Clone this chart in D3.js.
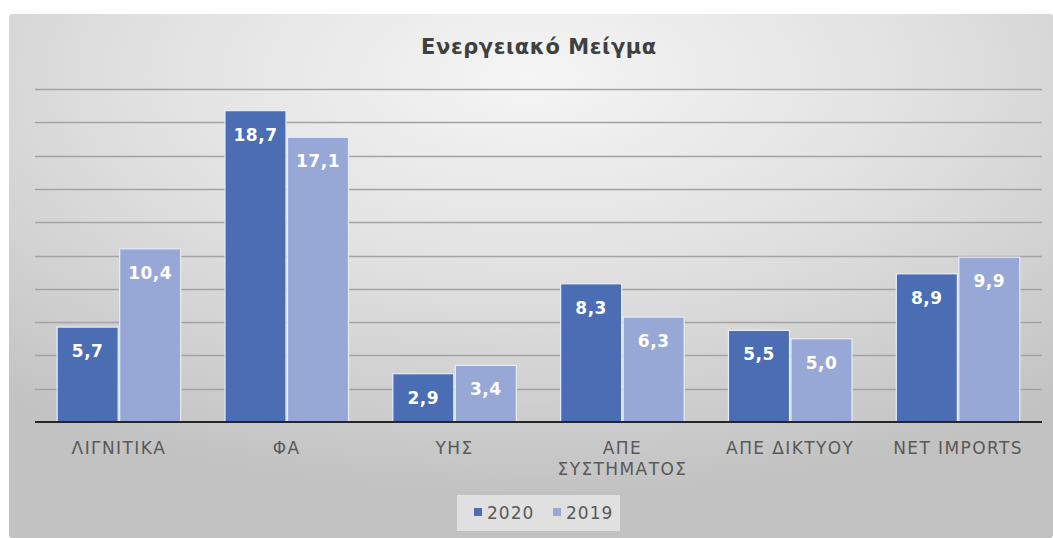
<!DOCTYPE html>
<html>
<head>
<meta charset="utf-8">
<script src="https://cdn.jsdelivr.net/npm/d3@7"></script>
<style>
  body { margin: 0; background: #fff; }
  svg { display: block; }
</style>
</head>
<body>
<div id="chart"></div>
<script>
'use strict';

var categories = [['ΛΙΓΝΙΤΙΚΑ'], ['ΦΑ'], ['ΥΗΣ'], ['ΑΠΕ', 'ΣΥΣΤΗΜΑΤΟΣ'], ['ΑΠΕ ΔΙΚΤΥΟΥ'], ['NET IMPORTS']];
var years = ['2020', '2019'];
var values2020 = [5.7, 18.7, 2.9, 8.3, 5.5, 8.9];
var values2019 = [10.4, 17.1, 3.4, 6.3, 5.0, 9.9];
var yTicks = [0, 2, 4, 6, 8, 10, 12, 14, 16, 18, 20];
var colors = ['#4a6db4', '#97a8d6'];

var width = 1053;
var height = 538;
var plot = { left: 35, right: 1042, top: 89, bottom: 422 };
var font = 'DejaVu Sans, Verdana, sans-serif';

var svg = d3.select('#chart')
  .append('svg')
  .attr('width', width)
  .attr('height', height);

// background gradient of the chart area
var defs = svg.append('defs');
var grad = defs.append('radialGradient')
  .attr('id', 'bg')
  .attr('cx', 0.5).attr('cy', 0.12).attr('r', 0.8);
grad.append('stop').attr('offset', 0).attr('stop-color', '#f5f5f5');
grad.append('stop').attr('offset', 0.45).attr('stop-color', '#e2e2e2');
grad.append('stop').attr('offset', 1).attr('stop-color', '#c2c2c2');

svg.append('rect')
  .attr('x', 9).attr('y', 14)
  .attr('width', width - 9).attr('height', height - 14)
  .attr('rx', 3)
  .attr('fill', 'url(#bg)');

var keys = categories.map(function(c) { return c.join(' '); });

var x0 = d3.scaleBand()
  .domain(keys)
  .range([plot.left, plot.right])
  .paddingInner(0.255)
  .paddingOuter(0.1275);

var x1 = d3.scaleBand()
  .domain(years)
  .range([0, x0.bandwidth()]);

var y = d3.scaleLinear()
  .domain([0, 20])
  .range([plot.bottom, plot.top]);

// gridlines
svg.append('g')
  .selectAll('line')
  .data(yTicks.slice(1))
  .enter()
  .append('line')
  .attr('x1', plot.left)
  .attr('x2', plot.right)
  .attr('y1', function(d) { return Math.round(y(d)) + 0.5; })
  .attr('y2', function(d) { return Math.round(y(d)) + 0.5; })
  .attr('stroke', '#a3a3a3')
  .attr('stroke-width', 1.3);

var rows = keys.map(function(k, i) {
  return { key: k, lines: categories[i], vals: [values2020[i], values2019[i]] };
});

var groups = svg.append('g')
  .selectAll('g')
  .data(rows)
  .enter()
  .append('g')
  .attr('transform', function(d) { return 'translate(' + x0(d.key) + ',0)'; });

var bars = groups.selectAll('g')
  .data(function(d) { return d.vals.map(function(v, j) { return { year: years[j], value: v, j: j }; }); })
  .enter()
  .append('g');

bars.append('rect')
  .attr('x', function(d) { return x1(d.year) + 0.75; })
  .attr('y', function(d) { return y(d.value); })
  .attr('width', x1.bandwidth() - 1.5)
  .attr('height', function(d) { return y(0) - y(d.value); })
  .attr('fill', function(d) { return colors[d.j]; })
  .attr('stroke', '#e8ecf6')
  .attr('stroke-width', 1.2);

bars.append('text')
  .attr('x', function(d) { return x1(d.year) + x1.bandwidth() / 2; })
  .attr('y', function(d) { return y(d.value) + 30; })
  .attr('text-anchor', 'middle')
  .attr('font-family', font)
  .attr('font-weight', 'bold')
  .attr('font-size', 17)
  .attr('letter-spacing', 0.5)
  .attr('fill', '#ffffff')
  .text(function(d) { return d3.format('.1f')(d.value).replace('.', ','); });

// x axis line
svg.append('line')
  .attr('x1', plot.left).attr('x2', plot.right)
  .attr('y1', y(0)).attr('y2', y(0))
  .attr('stroke', '#262626')
  .attr('stroke-width', 2.2);

// category labels
var labels = svg.append('g')
  .selectAll('text')
  .data(rows)
  .enter()
  .append('text')
  .attr('text-anchor', 'middle')
  .attr('font-family', font)
  .attr('font-size', 17)
  .attr('letter-spacing', 1.4)
  .attr('fill', '#595959')
  .attr('transform', function(d) { return 'translate(' + (x0(d.key) + x0.bandwidth() / 2) + ',454)'; });

labels.selectAll('tspan')
  .data(function(d) { return d.lines; })
  .enter()
  .append('tspan')
  .attr('x', 0)
  .attr('dy', function(d, i) { return i === 0 ? 0 : 21; })
  .text(function(d) { return d; });

// title
svg.append('text')
  .attr('x', 539)
  .attr('y', 54)
  .attr('text-anchor', 'middle')
  .attr('font-family', font)
  .attr('font-weight', 'bold')
  .attr('font-size', 21)
  .attr('letter-spacing', 0.6)
  .attr('fill', '#404040')
  .text('Ενεργειακό Μείγμα');

// legend
var legend = svg.append('g');
legend.append('rect')
  .attr('x', 457).attr('y', 495)
  .attr('width', 163).attr('height', 36)
  .attr('fill', '#ececec')
  .attr('opacity', 0.7);

var items = legend.selectAll('g')
  .data(years)
  .enter()
  .append('g')
  .attr('transform', function(d, i) { return 'translate(' + (474 + i * 79) + ',0)'; });

items.append('rect')
  .attr('x', 0).attr('y', 508)
  .attr('width', 8).attr('height', 8)
  .attr('fill', function(d, i) { return colors[i]; });

items.append('text')
  .attr('x', 13)
  .attr('y', 519)
  .attr('font-family', font)
  .attr('font-size', 17)
  .attr('letter-spacing', 1)
  .attr('fill', '#595959')
  .text(function(d) { return d; });
</script>
</body>
</html>
